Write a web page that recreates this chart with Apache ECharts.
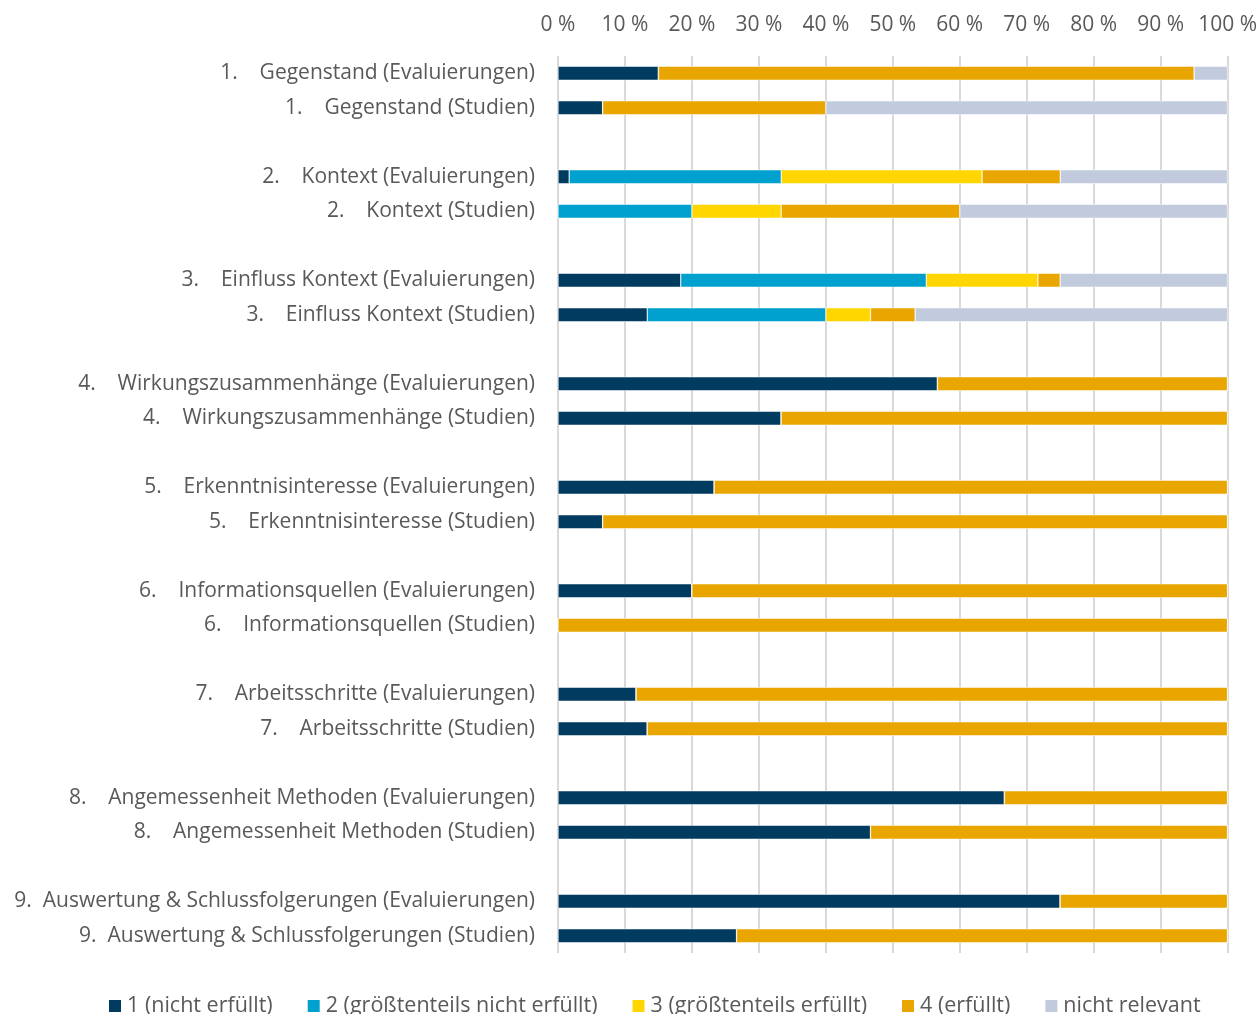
<!DOCTYPE html>
<html>
<head>
<meta charset="utf-8">
<script src="https://cdn.jsdelivr.net/npm/echarts@6/dist/echarts.min.js"></script>
<style>
  html, body { margin: 0; padding: 0; background: #fff; }
  #chart { width: 1260px; height: 1014px; }
</style>
</head>
<body>
<div id="chart"></div>
<script>
// categories, top to bottom ('' = spacer row between groups)
const categories = [
  '1.    Gegenstand (Evaluierungen)',
  '1.    Gegenstand (Studien)',
  '',
  '2.    Kontext (Evaluierungen)',
  '2.    Kontext (Studien)',
  '',
  '3.    Einfluss Kontext (Evaluierungen)',
  '3.    Einfluss Kontext (Studien)',
  '',
  '4.    Wirkungszusammenhänge (Evaluierungen)',
  '4.    Wirkungszusammenhänge (Studien)',
  '',
  '5.    Erkenntnisinteresse (Evaluierungen)',
  '5.    Erkenntnisinteresse (Studien)',
  '',
  '6.    Informationsquellen (Evaluierungen)',
  '6.    Informationsquellen (Studien)',
  '',
  '7.    Arbeitsschritte (Evaluierungen)',
  '7.    Arbeitsschritte (Studien)',
  '',
  '8.    Angemessenheit Methoden (Evaluierungen)',
  '8.    Angemessenheit Methoden (Studien)',
  '',
  '9.  Auswertung & Schlussfolgerungen (Evaluierungen)',
  '9.  Auswertung & Schlussfolgerungen (Studien)'
]

const ticks = [0, 10, 20, 30, 40, 50, 60, 70, 80, 90, 100]

// shares in percent
const nichtErfuellt =        [15, 6.67, null, 1.67, 0, null, 18.33, 13.33, null, 56.67, 33.33, null, 23.33, 6.67, null, 20, 0, null, 11.67, 13.33, null, 66.67, 46.67, null, 75, 26.67]
const groesstNichtErfuellt = [0, 0, null, 31.67, 20, null, 36.67, 26.67, null, 0, 0, null, 0, 0, null, 0, 0, null, 0, 0, null, 0, 0, null, 0, 0]
const groesstErfuellt =      [0, 0, null, 30, 13.33, null, 16.67, 6.67, null, 0, 0, null, 0, 0, null, 0, 0, null, 0, 0, null, 0, 0, null, 0, 0]
const erfuellt =             [80, 33.33, null, 11.67, 26.67, null, 3.33, 6.67, null, 43.33, 66.67, null, 76.67, 93.33, null, 80, 100, null, 88.33, 86.67, null, 33.33, 53.33, null, 25, 73.33]
const nichtRelevant =        [5, 60, null, 25, 40, null, 25, 46.67, null, 0, 0, null, 0, 0, null, 0, 0, null, 0, 0, null, 0, 0, null, 0, 0]

const seriesDefs = [
  { name: '1 (nicht erfüllt)', color: '#023b60', data: nichtErfuellt },
  { name: '2 (größtenteils nicht erfüllt)', color: '#00a0cf', data: groesstNichtErfuellt },
  { name: '3 (größtenteils erfüllt)', color: '#ffd600', data: groesstErfuellt },
  { name: '4 (erfüllt)', color: '#e9a600', data: erfuellt },
  { name: 'nicht relevant', color: '#c1cbdd', data: nichtRelevant }
]

const chart = echarts.init(document.getElementById('chart'))

const font = '"Open Sans", "Noto Sans", sans-serif'

chart.setOption({
  animation: false,
  backgroundColor: '#fff',
  textStyle: { fontFamily: font },
  grid: {
    left: 558,
    right: 32,
    top: 56,
    bottom: 61,
    containLabel: false
  },
  legend: {
    top: 990,
    left: 102,
    icon: 'rect',
    itemWidth: 14,
    itemHeight: 14,
    itemGap: 33,
    textStyle: { color: '#595959', fontSize: 21.5, fontFamily: font },
    data: seriesDefs.map(s => s.name)
  },
  xAxis: {
    type: 'value',
    position: 'top',
    min: 0,
    max: 100,
    interval: 10,
    axisLine: { show: false },
    axisTick: { show: false },
    axisLabel: {
      color: '#595959',
      fontSize: 21,
      margin: 20,
      formatter: v => ticks.includes(v) ? v + ' %' : ''
    },
    splitLine: { lineStyle: { color: '#d9d9d9', width: 2 } }
  },
  yAxis: {
    type: 'category',
    inverse: true,
    data: categories,
    axisLine: { show: false },
    axisTick: { show: false },
    axisLabel: {
      color: '#595959',
      fontSize: 21,
      margin: 23,
      interval: 0
    }
  },
  series: seriesDefs.map(s => ({
    name: s.name,
    type: 'bar',
    stack: 'total',
    barWidth: 14,
    data: s.data,
    itemStyle: {
      color: s.color,
      borderColor: '#ffffff',
      borderWidth: 0.5
    }
  }))
})
</script>
</body>
</html>
